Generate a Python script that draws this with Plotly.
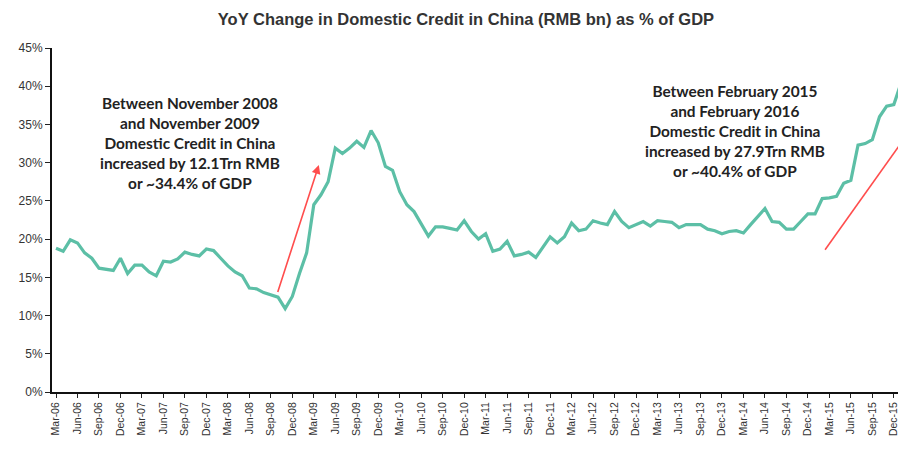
import pandas as pd
import plotly.graph_objects as go

# monthly YoY change in domestic credit as % of GDP, Mar-06 .. Feb-16
months = pd.date_range('2006-03-01', periods=120, freq='MS')
month_labels = [d.strftime('%b-%y') for d in months]
credit_pct = [
    18.8, 18.4, 19.9, 19.5, 18.2, 17.5, 16.2, 16.1, 15.9, 17.5,
    15.5, 16.6, 16.6, 15.7, 15.2, 17.1, 17.0, 17.4, 18.3, 18.0,
    17.8, 18.7, 18.5, 17.5, 16.5, 15.7, 15.2, 13.6, 13.5, 13.0,
    12.7, 12.4, 10.9, 12.5, 15.5, 18.2, 24.5, 25.8, 27.5, 31.9,
    31.2, 31.9, 32.8, 32.0, 34.2, 32.6, 29.5, 29.0, 26.2, 24.5,
    23.6, 21.9, 20.4, 21.6, 21.6, 21.4, 21.2, 22.4, 21.0, 20.0,
    20.7, 18.4, 18.7, 19.7, 17.8, 18.0, 18.3, 17.6, 18.9, 20.3,
    19.5, 20.3, 22.1, 21.1, 21.3, 22.4, 22.1, 21.9, 23.6, 22.3,
    21.5, 21.9, 22.3, 21.7, 22.4, 22.3, 22.2, 21.5, 21.9, 21.9,
    21.9, 21.3, 21.1, 20.7, 21.0, 21.1, 20.8, 21.9, 22.9, 24.0,
    22.3, 22.2, 21.3, 21.3, 22.3, 23.3, 23.3, 25.3, 25.4, 25.6,
    27.3, 27.7, 32.3, 32.5, 33.0, 36.0, 37.4, 37.6, 40.4, 40.5,
]
month_idx = list(range(len(credit_pct)))

# tick every quarter
tick_idx = month_idx[::3]
tick_labels = month_labels[::3]

y_ticks = [0, 5, 10, 15, 20, 25, 30, 35, 40, 45]
y_tick_labels = [f'{v}%' for v in y_ticks]

# red trend markers (month index, %)
arrow_2008_x = [30.9, 36.7]
arrow_2008_y = [12.9, 29.7]
line_2015_x = [107.4, 121.0]
line_2015_y = [18.6, 36.5]

note_2008 = ('<b>Between November 2008<br>and November 2009<br>Domestic Credit in China'
             '<br>increased by 12.1Trn RMB<br>or ~34.4% of GDP</b>')
note_2015 = ('<b>Between February 2015<br>and February 2016<br>Domestic Credit in China'
             '<br>increased by 27.9Trn RMB<br>or ~40.4% of GDP</b>')

fig = go.Figure()

fig.add_trace(go.Scatter(
    x=line_2015_x, y=line_2015_y, mode='lines',
    line=dict(color='#ff4d4d', width=1.6), hoverinfo='skip',
))

fig.add_trace(go.Scatter(
    x=month_idx, y=credit_pct, mode='lines',
    line=dict(color='#5cbfa6', width=3.2),
))

# arrow for 2008-09 surge
fig.add_annotation(
    x=arrow_2008_x[1], y=arrow_2008_y[1], ax=arrow_2008_x[0], ay=arrow_2008_y[0],
    xref='x', yref='y', axref='x', ayref='y', text='',
    showarrow=True, arrowhead=2, arrowsize=1.1, arrowwidth=1.6, arrowcolor='#ff4d4d',
)

note_font = dict(family='Lato', size=15.4, color='#222222')
fig.add_annotation(x=18.7, y=32.6, xref='x', yref='y', text=note_2008,
                   showarrow=False, font=note_font, align='center')
fig.add_annotation(x=94.8, y=34.2, xref='x', yref='y', text=note_2015,
                   showarrow=False, font=note_font, align='center')

# page body has an 8px margin, so the figure is sized to end at the window edge
fig.update_layout(
    width=898, height=443,
    margin=dict(l=44, r=0, t=40, b=59, autoexpand=False),
    plot_bgcolor='white',
    paper_bgcolor='white',
    showlegend=False,
    font=dict(family='Liberation Sans', size=10, color='#333333'),
    title=dict(text='<b>YoY Change in Domestic Credit in China (RMB bn) as % of GDP</b>',
               x=0.51, xanchor='center', y=0.975, yanchor='middle',
               font=dict(family='Liberation Sans', size=16.5, color='#333333')),
    xaxis=dict(
        range=[-0.56, 118.7], automargin=False,
        tickmode='array', tickvals=tick_idx, ticktext=tick_labels,
        tickangle=-90, tickfont=dict(size=10.5),
        ticks='outside', ticklen=4, tickcolor='#222222',
        showline=True, linecolor='#111111', linewidth=2,
        showgrid=False, zeroline=False,
    ),
    yaxis=dict(
        range=[0, 45], automargin=False,
        tickmode='array', tickvals=y_ticks, ticktext=y_tick_labels,
        tickfont=dict(size=12),
        ticks='outside', ticklen=5, tickcolor='#222222',
        showline=True, linecolor='#111111', linewidth=2,
        showgrid=False, zeroline=False,
    ),
)

fig.write_html('out.html')
